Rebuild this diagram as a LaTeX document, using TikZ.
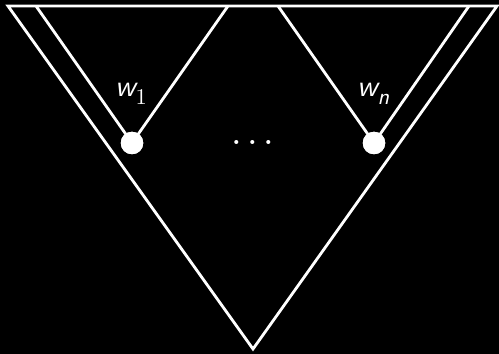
\documentclass[tikz,border=0pt]{standalone}
\usepackage{fontspec}
\setmainfont{Latin Modern Roman}
\newfontfamily\wfont{lmsans10-oblique}[Extension=.otf]
\newfontfamily\onefont{lmroman10-regular}[Extension=.otf]
\begin{document}
\begin{tikzpicture}[x=1pt,y=1pt,
  edge/.style={draw=white,line width=2.8pt,line join=miter},
  leaf/.style={circle,fill=white,inner sep=0pt,minimum size=22.5pt},
  lab/.style={text=white,inner sep=0pt,anchor=base west}]
\fill[black] (0,0) rectangle (499,354);
\useasboundingbox (0,0) rectangle (499,354);
% corners
\coordinate (A) at (8,348);
\coordinate (B) at (497,348);
\coordinate (C) at (253,5);
\coordinate (L1) at (36,348);
\coordinate (R1) at (228,348);
\coordinate (L2) at (278,348);
\coordinate (R2) at (469,348);
\node[leaf] (N1) at (132,211) {};
\node[leaf] (Nn) at (374,211) {};
% outer triangle
\draw[edge] (A) -- (B) -- (C) -- cycle;
% inner triangles
\draw[edge] (L1) -- (N1.center) -- (R1);
\draw[edge] (L2) -- (Nn.center) -- (R2);
\node[leaf] at (N1) {};
\node[leaf] at (Nn) {};
% labels
\node[lab] (w1) at (115,257) {\fontsize{30}{34}\selectfont\wfont w\raisebox{-8pt}{\fontsize{22.5}{26}\selectfont\onefont 1}};
\node[lab] (wn) at (357,257) {\fontsize{30}{34}\selectfont\wfont w\raisebox{-7.5pt}{\fontsize{22.5}{26}\selectfont n}};
\node[text=white,inner sep=0pt,anchor=base] (dots) at (253,209) {\fontsize{38}{42}\selectfont\onefont .\kern0.14em.\kern0.14em.};
\end{tikzpicture}
\end{document}
